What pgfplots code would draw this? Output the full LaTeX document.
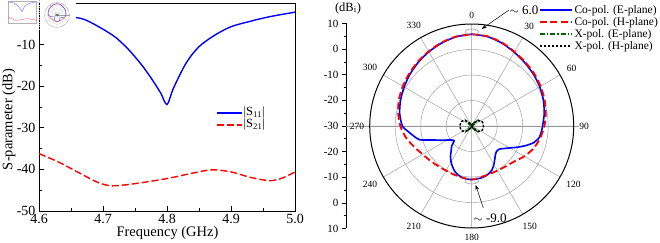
\documentclass[border=0pt]{standalone}
\usepackage{pgfplots}
\pgfplotsset{compat=1.18}
\usepackage{pgfplotstable}
\usepgfplotslibrary{polar}
\usetikzlibrary{arrows.meta}
\usepackage{fontspec}
\setmainfont{Liberation Serif}

% ---------- S-parameters (frequency in GHz, magnitude in dB) ----------
\pgfplotstableread{
f      db
4.600  -2.4
4.630  -2.9
4.665  -3.7
4.680  -4.6
4.700  -6.3
4.720  -8.3
4.740  -11.2
4.760  -14.8
4.775  -18.0
4.790  -21.6
4.800  -24.4
4.810  -20.5
4.830  -14.4
4.850  -10.5
4.875  -7.7
4.900  -5.7
4.930  -4.4
4.960  -3.3
5.000  -2.2
}\sOneOne

\pgfplotstableread{
f      db
4.600  -36.2
4.630  -38.2
4.660  -40.6
4.690  -43.0
4.710  -43.9
4.730  -43.8
4.760  -43.2
4.800  -42.2
4.840  -40.9
4.870  -40.1
4.900  -40.6
4.930  -41.9
4.960  -42.7
4.980  -42.1
5.000  -40.6
}\sTwoOne

% ---------- radiation patterns (angle in deg, gain in dBi) ----------
\pgfplotstableread{
ang  db
0    6.0
10   5.6
20   4.6
30   3.4
40   2.4
50   1.6
60   0.8
70   -0.1
80   -1.1
90   -2.2
95   -2.6
100  -3.2
105  -4.8
110  -7.5
115  -10.3
120  -12.8
125  -14.6
130  -15.9
135  -16.1
140  -15.5
145  -14.2
150  -12.6
155  -11.1
160  -10.2
165  -9.6
170  -9.3
175  -9.1
180  -9.0
185  -9.1
190  -9.4
195  -10.0
200  -10.9
205  -12.3
210  -13.8
215  -15.5
220  -17.5
225  -18.9
230  -21.0
235  -20.4
240  -19.0
245  -16.8
250  -14.0
255  -9.0
260  -7.0
265  -5.0
270  -2.8
280  -1.3
290  -0.3
300  0.6
310  1.6
320  2.6
330  3.6
340  4.6
350  5.5
360  6.0
}\coE

\pgfplotstableread{
ang  db
0    6.0
10   5.7
20   4.8
30   3.6
40   2.7
50   2.0
60   1.2
70   0.4
80   -0.5
90   -1.5
100  -2.7
110  -4.2
120  -6.2
130  -8.3
140  -9.3
150  -9.8
160  -9.9
170  -9.6
180  -9.0
190  -9.4
200  -9.7
210  -9.8
220  -9.5
230  -8.8
240  -7.8
250  -6.0
260  -3.8
270  -2.0
280  -0.7
290  0.4
300  1.2
310  2.0
320  2.9
330  3.8
340  4.8
350  5.6
360  6.0
}\coH

\pgfplotstableread{
ang  db
0    -29.9
20   -29.6
30   -29.0
40   -28.0
50   -26.9
60   -25.9
70   -25.5
90   -25.4
110  -25.5
120  -25.9
130  -26.9
140  -28.0
150  -29.0
160  -29.6
180  -29.9
200  -29.6
210  -29.0
220  -28.0
230  -26.9
240  -25.9
250  -25.5
270  -25.4
290  -25.5
300  -25.9
310  -26.9
320  -28.0
330  -29.0
340  -29.6
360  -29.9
}\xH

\pgfplotstableread{
ang  db
0    -29.9
30   -28.8
45   -27.2
60   -28.8
90   -29.9
120  -28.8
135  -27.2
150  -28.8
180  -29.9
210  -28.8
225  -27.2
240  -28.8
270  -29.9
300  -28.8
315  -27.2
330  -28.8
360  -29.9
}\xE

\definecolor{xgreen}{RGB}{0,100,0}

\tikzset{
  s11 style/.style={blue, line width=1.4pt},
  s21 style/.style={red, line width=1.4pt, dash pattern=on 7pt off 3pt},
  coE style/.style={blue, line width=1.6pt},
  coH style/.style={red, line width=1.8pt, dash pattern=on 7pt off 3.5pt},
  xE style/.style={xgreen, line width=1.3pt, dash pattern=on 5pt off 2pt on 1.5pt off 2pt},
  xH style/.style={black, line width=1.4pt, dash pattern=on 2.5pt off 1.5pt},
}
\pgfplotsset{
  compass/.style={
    x filter/.expression={x<=90 ? 90-x : 450-x},
    y filter/.expression={y+30},
  },
}

\begin{document}
\begin{tikzpicture}
\useasboundingbox (0pt,0pt) rectangle (660pt,243pt);

% ===================== S-parameter plot =====================
\begin{axis}[
  at={(39pt,32pt)}, anchor=south west,
  scale only axis, width=256pt, height=208pt,
  xmin=4.6, xmax=5.0, ymin=-50, ymax=0,
  xtick={4.6,4.7,4.8,4.9,5.0}, minor x tick num=1,
  ytick={-50,-40,...,0}, minor y tick num=1,
  yticklabels={-50,-40,-30,-20,-10,{}},
  xticklabel style={/pgf/number format/.cd, fixed, fixed zerofill, precision=1},
  /pgf/number format/assume math mode=true,
  tick align=inside, tick pos=left,
  axis line style={line width=0.9pt},
  major tick style={black, line width=0.8pt},
  minor tick style={black, line width=0.8pt},
  major tick length=5pt, minor tick length=3pt,
  tick label style={font=\fontsize{14}{16}\selectfont},
  label style={font=\fontsize{14.5}{17}\selectfont},
  xlabel={Frequency (GHz)}, ylabel={S-parameter (dB)},
  xlabel style={at={(axis description cs:0.502,-0.108)}, anchor=center},
  ylabel style={at={(axis description cs:-0.118,0.44)}, anchor=center},
]
\addplot[s11 style, smooth, tension=0.5] table[x=f, y=db] {\sOneOne};
\addplot[s21 style, smooth] table[x=f, y=db] {\sTwoOne};
\end{axis}

% key of the S-parameter plot
\draw[s11 style] (217pt,130pt) -- (242pt,130pt);
\draw[s21 style] (217pt,118pt) -- (242pt,118pt);
\node[anchor=west, inner sep=1pt, font=\fontsize{12.5}{13}\selectfont] at (242.5pt,130pt) {\textbar S\textsubscript{11}\textbar};
\node[anchor=west, inner sep=1pt, font=\fontsize{12.5}{13}\selectfont] at (242.5pt,118pt) {\textbar S\textsubscript{21}\textbar};

% ===================== radial scale =====================
\begin{axis}[
  at={(346pt,117pt)}, anchor=origin,
  scale only axis, width=1pt, height=205pt,
  xmin=0, xmax=1, ymin=-4, ymax=4,
  axis x line=none, axis y line=left,
  axis line style={line width=0.8pt, -},
  ytick={-4,...,4}, minor y tick num=1,
  yticklabels={10,0,-10,-20,-30,-20,-10,0,10},
  tick align=outside,
  major tick length=4pt, minor tick length=2.5pt,
  major tick style={black, line width=0.7pt},
  minor tick style={black, line width=0.7pt},
  tick label style={font=\fontsize{11}{12}\selectfont},
]
\end{axis}
\node[font=\fontsize{12.5}{13}\selectfont] at (348pt,235pt) {(dB\textsubscript{i})};

% horizontal reference line through the pattern centre
\draw[gray!80, line width=0.45pt] (346pt,117pt) -- (579pt,117pt);

% ===================== radiation pattern =====================
\begin{polaraxis}[
  at={(471.7pt,117pt)}, anchor=center,
  scale only axis, width=204pt, height=204pt,
  xmin=0, xmax=360, ymin=0, ymax=40,
  xtick={0,30,...,330},
  xticklabels={90,60,30,0,330,300,270,240,210,180,150,120},
  ytick={10,20,30}, yticklabels={},
  grid=major, major grid style={gray!80, line width=0.45pt},
  axis line style={black, line width=1pt},
  y axis line style={draw=none},
  major tick length=0pt,
  xticklabel style={font=\fontsize{9.5}{10}\selectfont, inner sep=5.5pt},
  legend style={at={(0.825,1.105)}, anchor=north west, draw=none, fill=none,
    font=\fontsize{11.5}{12}\selectfont, row sep=-1.5pt, inner sep=0.5pt},
  legend cell align=left,
  compass,
]
\addplot[coE style, smooth, tension=0.4, forget plot] table[x=ang, y=db] {\coE};
\addplot[coH style, smooth, tension=0.4, forget plot] table[x=ang, y=db] {\coH};
\addplot[xE style, forget plot] table[x=ang, y=db] {\xE};
\addplot[xH style, smooth, tension=0.4, forget plot] table[x=ang, y=db] {\xH};
\addlegendimage{legend image code/.code={\draw[coE style] (0pt,0pt) -- (32pt,0pt);}}
\addlegendentry{Co-pol. (E-plane)}
\addlegendimage{legend image code/.code={\draw[coH style] (0pt,0pt) -- (32pt,0pt);}}
\addlegendentry{Co-pol. (H-plane)}
\addlegendimage{legend image code/.code={\draw[xE style] (0pt,0pt) -- (32pt,0pt);}}
\addlegendentry{X-pol. (E-plane)}
\addlegendimage{legend image code/.code={\draw[xH style] (0pt,0pt) -- (32pt,0pt);}}
\addlegendentry{X-pol. (H-plane)}
\end{polaraxis}

% peak / back-lobe call-outs
\draw[gray, line width=0.4pt] (471.7pt,211pt) ellipse (6.7pt and 3pt);
\draw[gray, line width=0.4pt] (471.7pt,62pt) ellipse (6.7pt and 3pt);
\draw[line width=0.5pt, -{Stealth[length=5pt,width=3.5pt]}] (509pt,233pt) -- (481.7pt,214pt);
\draw[line width=0.5pt, -{Stealth[length=5pt,width=3.5pt]}] (483.3pt,35pt) -- (475.7pt,58pt);
\node[font=\fontsize{13}{14}\selectfont] at (524pt,233pt) {$\sim$ 6.0};
\node[font=\fontsize{13}{14}\selectfont] at (490pt,25pt) {$\sim$ -9.0};

% ===================== thumbnails =====================
\fill[white] (0pt,214pt) rectangle (38pt,243pt);
\fill[white] (40pt,212pt) rectangle (76pt,243pt);
\begin{axis}[
  at={(8pt,220pt)}, anchor=south west,
  scale only axis, width=28pt, height=22pt,
  xmin=4.6, xmax=5.0, ymin=-50, ymax=0,
  ticks=none, axis line style={gray!60, line width=0.3pt},
]
\addplot[blue!60, line width=0.4pt] table[x=f, y=db] {\sOneOne};
\addplot[red!60, line width=0.4pt] table[x=f, y=db] {\sTwoOne};
\end{axis}
\begin{polaraxis}[
  at={(57pt,228pt)}, anchor=center,
  scale only axis, width=25pt, height=25pt,
  xmin=0, xmax=360, ymin=0, ymax=40,
  xtick={0,30,...,330}, ytick={10,20,30},
  xticklabels={}, yticklabels={},
  grid=major, major grid style={gray!40, line width=0.15pt},
  axis line style={gray!70, line width=0.3pt},
  major tick length=0pt,
  compass,
]
\addplot[red!70, line width=0.4pt, smooth] table[x=ang, y=db] {\coH};
\addplot[blue!70, line width=0.4pt, smooth] table[x=ang, y=db] {\coE};
\addplot[black!70, line width=0.3pt] table[x=ang, y=db] {\xH};
\end{polaraxis}
\draw[gray!60, dotted, line width=0.4pt] (39pt,243pt) -- (39pt,212pt);

\end{tikzpicture}
\end{document}
